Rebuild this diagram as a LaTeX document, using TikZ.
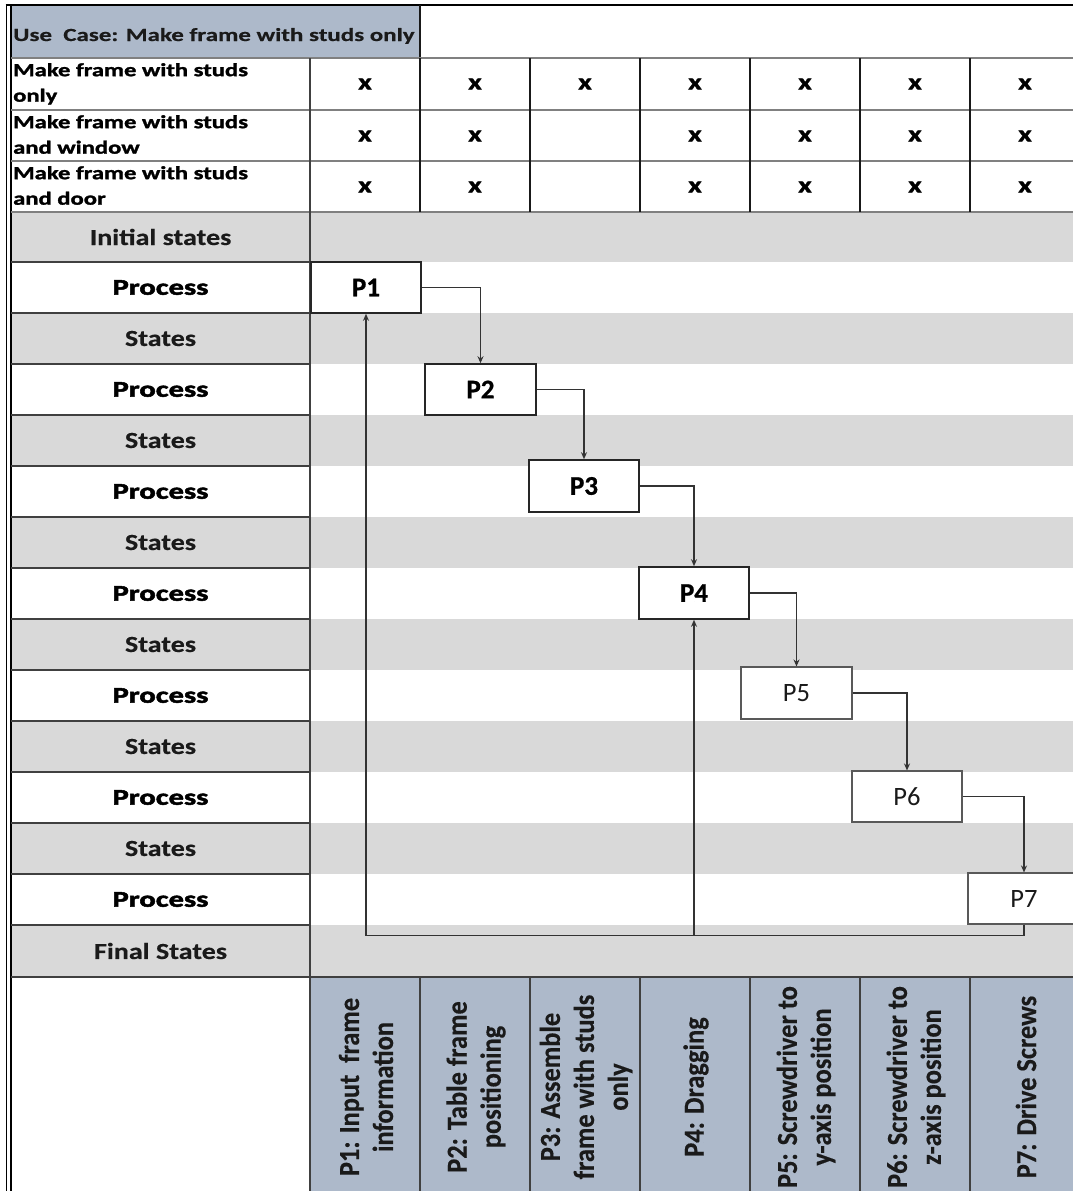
\documentclass[tikz,border=0pt]{standalone}
\usepackage{fontspec}
\setmainfont{Carlito}
% widened (and for some, heavier) cuts of the same face for the spreadsheet-style labels
\newfontfamily\titlefont{Carlito}[FakeStretch=1.35,FakeBold=0.6]
\newfontfamily\rowfont{Carlito}[FakeStretch=1.33,FakeBold=1.6]
\newfontfamily\statefont{Carlito}[FakeStretch=1.22,FakeBold=0.4]
\newfontfamily\procfont{Carlito}[FakeStretch=1.36,FakeBold=2.2]
\newfontfamily\boxfont{Carlito}[FakeBold=0.8]
\newfontfamily\rotfont{Carlito}[FakeStretch=0.91,FakeBold=0.4]
\usetikzlibrary{arrows.meta}
\definecolor{headblue}{HTML}{ADB9CA}
\definecolor{band}{HTML}{D9D9D9}
\definecolor{ink}{HTML}{1A1A1A}

\begin{document}
\begin{tikzpicture}[x=1pt,y=-1pt,
  gridh/.style={draw=black!50,line width=1.3pt},
  gridv/.style={draw=black!90,line width=2pt},
  cellrule/.style={draw=black!75,line width=1.3pt},
  rowlabel/.style={anchor=north west,inner sep=0pt,align=left,text=black,
    font={\rowfont\bfseries\fontsize{18.5}{25.5}\selectfont}},
  xmark/.style={inner sep=0pt,text=black,font={\rowfont\bfseries\fontsize{22}{22}\selectfont}},
  statelabel/.style={inner sep=0pt,text=ink,font={\statefont\bfseries\fontsize{23}{23}\selectfont}},
  proclabel/.style={inner sep=0pt,text=black,font={\procfont\bfseries\fontsize{22.5}{22.5}\selectfont}},
  procbox/.style={draw=black!85,line width=1.6pt,fill=white,minimum width=110pt,
    minimum height=51pt,inner sep=0pt,text=black,font={\boxfont\bfseries\fontsize{27}{27}\selectfont}},
  procboxlight/.style={procbox,draw=black!65,line width=1.1pt,text=ink,
    font={\fontsize{26.5}{26.5}\selectfont}},
  flow/.style={draw=black!80,line width=1.3pt,-{Stealth[length=7pt,width=6pt]}},
  vcaption/.style={rotate=90,align=center,inner sep=0pt,text=ink,
    font={\rotfont\bfseries\fontsize{29}{34}\selectfont}}
]
\useasboundingbox (0,0) rectangle (1073,1191);
\fill[white] (0,0) rectangle (1073,1191);

% ---- fills ----
\fill[headblue] (11,6) rectangle (420,58);
\fill[band] (11,212) rectangle (1073,262);
\foreach \k in {1,3,...,11}
  \fill[band] (11,{262+51*\k}) rectangle (1073,{313+51*\k});
\fill[band] (11,925) rectangle (1073,977);
\fill[headblue] (310,977) rectangle (1073,1191);

% ---- table rules ----
\draw[line width=2.4pt] (5.5,5) -- (1073,5);
\draw[line width=1.4pt] (6.5,4) -- (6.5,1191);
\draw[line width=1.3pt] (11,5) -- (11,1191);
\draw[gridv] (420,5) -- (420,58);
\foreach \y in {58,110,161,212}
  \draw[gridh] (11,\y) -- (1073,\y);
\foreach \x in {310,420,...,970}
  \draw[gridv] (\x,58) -- (\x,212);
\foreach \k in {0,...,13}
  \draw[cellrule] (11,{262+51*\k}) -- (310,{262+51*\k});
\draw[cellrule] (11,977) -- (1073,977);
\draw[cellrule] (310,58) -- (310,1191);
\foreach \x in {420,530,...,970}
  \draw[cellrule] (\x,977) -- (\x,1191);

% ---- heading and use-case rows ----
\node[anchor=base west,inner sep=0pt,text=ink,
  font={\titlefont\bfseries\fontsize{18.5}{22}\selectfont}] (title) at (13,41)
  {Use\ \ Case: Make frame with studs only};
\node[rowlabel] (use1) at (13,63) {Make frame with studs\\only};
\node[rowlabel] (use2) at (13,115) {Make frame with studs\\and window};
\node[rowlabel] (use3) at (13,166) {Make frame with studs\\and door};
\foreach \c in {1,...,7}
  \node[xmark] (xa\c) at ({255+110*\c},84) {x};
\foreach \c in {1,2,4,5,6,7}
  \node[xmark] (xb\c) at ({255+110*\c},136) {x};
\foreach \c in {1,2,4,5,6,7}
  \node[xmark] (xc\c) at ({255+110*\c},187) {x};

% ---- row headings ----
\node[statelabel] (init) at (160.5,237) {Initial states};
\foreach \k in {0,...,6}
  \node[proclabel] (proc\k) at (160.5,{287.5+102*\k}) {Process};
\foreach \k in {0,...,5}
  \node[statelabel] (state\k) at (160.5,{338.5+102*\k}) {States};
\node[statelabel] (final) at (160.5,951) {Final States};

% ---- process boxes ----
\node[procbox] (P1) at (366,287.5) {P1};
\node[procbox,minimum width=111pt] (P2) at (480.5,389.5) {P2};
\node[procbox,minimum height=52pt] (P3) at (584,486) {P3};
\node[procbox,minimum height=52pt] (P4) at (694,593) {P4};
\node[procboxlight,minimum width=111pt,minimum height=52pt] (P5) at (796.5,693) {P5};
\node[procboxlight] (P6) at (907,796.5) {P6};
\node[procboxlight,minimum width=112pt] (P7) at (1024,898.5) {P7};

% ---- sequence and return connectors ----
\draw[flow] (P1.east) -| (P2.north);
\draw[flow] (P2.east) -| (P3.north);
\draw[flow] (P3.east) -| (P4.north);
\draw[flow] (P4.east) -| (P5.north);
\draw[flow] (P5.east) -| (P6.north);
\draw[flow] (P6.east) -| (P7.north);
\path (P7.south) ++(0,11) coordinate (back);
\draw[flow] (P7.south) -- (back) -| (P1.south);
\draw[flow] (P4.south |- back) -- (P4.south);

% ---- column captions ----
\node[vcaption] (cap1) at (366,1087) {P1: Input\ \ frame\\information};
\node[vcaption] (cap2) at (476,1087) {P2: Table frame\\positioning};
\node[vcaption] (cap3) at (586,1087) {P3: Assemble\\frame with studs\\only};
\node[vcaption] (cap4) at (696,1087) {P4: Dragging};
\node[vcaption] (cap5) at (806,1087) {P5: Screwdriver to\\y-axis position};
\node[vcaption] (cap6) at (916,1087) {P6: Screwdriver to\\z-axis position};
\node[vcaption] (cap7) at (1026,1087) {P7: Drive Screws};
\end{tikzpicture}
\end{document}
